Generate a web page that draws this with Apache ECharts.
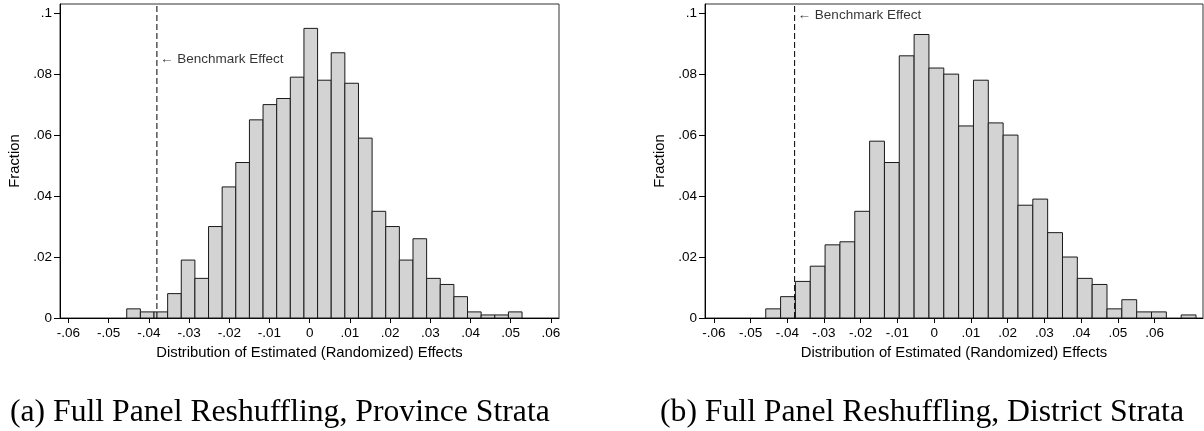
<!DOCTYPE html>
<html>
<head>
<meta charset="utf-8">
<script src="https://cdn.jsdelivr.net/npm/echarts@6/dist/echarts.min.js"></script>
<style>
html, body { margin: 0; padding: 0; background: #ffffff; }
#chart { width: 1204px; height: 431px; }
</style>
</head>
<body>
<div id="chart"></div>
<script>
// ---- Data ----
// Panel (a): bin edges (30 edges -> 29 bins) and fractions
var leftBinEdges = [-0.04550, -0.04211, -0.03872, -0.03533, -0.03194, -0.02855, -0.02516, -0.02177,
  -0.01838, -0.01499, -0.01160, -0.00821, -0.00482, -0.00143, 0.00196, 0.00535, 0.00874, 0.01213,
  0.01552, 0.01891, 0.02230, 0.02569, 0.02908, 0.03247, 0.03586, 0.03925, 0.04264, 0.04603, 0.04942, 0.05281];
var leftFractions = [0.003, 0.002, 0.002, 0.008, 0.019, 0.013, 0.030, 0.043, 0.051, 0.065, 0.070, 0.072,
  0.079, 0.095, 0.078, 0.087, 0.077, 0.059, 0.035, 0.030, 0.019, 0.026, 0.013, 0.011, 0.007, 0.002,
  0.001, 0.001, 0.002];

// Panel (b): bin edges (30 edges -> 29 bins) and fractions
var rightBinEdges = [-0.04586, -0.04182, -0.03778, -0.03374, -0.02970, -0.02566, -0.02162, -0.01758,
  -0.01354, -0.00950, -0.00546, -0.00142, 0.00262, 0.00666, 0.01070, 0.01474, 0.01878, 0.02282,
  0.02686, 0.03090, 0.03494, 0.03898, 0.04302, 0.04706, 0.05110, 0.05514, 0.05918, 0.06322, 0.06726, 0.07130];
var rightFractions = [0.003, 0.007, 0.012, 0.017, 0.024, 0.025, 0.035, 0.058, 0.051, 0.086, 0.093,
  0.082, 0.080, 0.063, 0.078, 0.064, 0.060, 0.037, 0.039, 0.028, 0.020, 0.013, 0.011, 0.003, 0.006,
  0.002, 0.002, 0, 0.001];

var benchmarkEffect = -0.038;
var benchmarkText = '\u2190 Benchmark Effect';

var xTickValues = [-0.06, -0.05, -0.04, -0.03, -0.02, -0.01, 0, 0.01, 0.02, 0.03, 0.04, 0.05, 0.06];
var xTickLabels = ['-.06', '-.05', '-.04', '-.03', '-.02', '-.01', '0', '.01', '.02', '.03', '.04', '.05', '.06'];
var yTickValues = [0, 0.02, 0.04, 0.06, 0.08, 0.1];
var yTickLabels = ['0', '.02', '.04', '.06', '.08', '.1'];

var xAxisTitle = 'Distribution of Estimated (Randomized) Effects';
var yAxisTitle = 'Fraction';
var captionA = '(a) Full Panel Reshuffling, Province Strata';
var captionB = '(b) Full Panel Reshuffling, District Strata';

// ---- Helpers ----
function lookupLabel(values, labels, v) {
  for (var i = 0; i < values.length; i++) {
    if (Math.abs(values[i] - v) < 1e-9) return labels[i];
  }
  return '';
}
function binData(edges, fr) {
  var out = [];
  for (var i = 0; i < fr.length; i++) out.push([edges[i], edges[i + 1], fr[i]]);
  return out;
}

var sansFont = '"Liberation Sans", Arial, Helvetica, sans-serif';
var serifFont = '"Liberation Serif", "Times New Roman", serif';

function xAxisDef(idx, min, max) {
  return {
    type: 'value', gridIndex: idx, min: min, max: max,
    name: xAxisTitle, nameLocation: 'middle', nameGap: 27,
    nameTextStyle: { color: '#000', fontSize: 14.8, fontFamily: sansFont },
    axisLine: { show: true, onZero: false, lineStyle: { color: '#000', width: 1 } },
    axisTick: { show: true, length: 5, customValues: xTickValues, lineStyle: { color: '#000' } },
    axisLabel: { show: true, margin: 8, customValues: xTickValues, color: '#000', fontSize: 13.5, fontFamily: sansFont,
      formatter: function (v) { return lookupLabel(xTickValues, xTickLabels, v); } },
    splitLine: { show: false }
  };
}
function yAxisDef(idx) {
  return {
    type: 'value', gridIndex: idx, min: 0, max: 0.103,
    name: yAxisTitle, nameLocation: 'middle', nameGap: 38, nameRotate: 90,
    nameTextStyle: { color: '#000', fontSize: 14.8, fontFamily: sansFont },
    axisLine: { show: true, onZero: false, lineStyle: { color: '#000', width: 1 } },
    axisTick: { show: true, length: 6, customValues: yTickValues, lineStyle: { color: '#000' } },
    axisLabel: { show: true, margin: 8, customValues: yTickValues, color: '#000', fontSize: 13.5, fontFamily: sansFont,
      formatter: function (v) { return lookupLabel(yTickValues, yTickLabels, v); } },
    splitLine: { show: false }
  };
}

function histSeries(idx, edges, fr) {
  return {
    type: 'custom', xAxisIndex: idx, yAxisIndex: idx,
    data: binData(edges, fr),
    renderItem: function (params, api) {
      var x0 = api.value(0), x1 = api.value(1), v = api.value(2);
      if (!(v > 0)) return null;
      var p0 = api.coord([x0, v]);
      var p1 = api.coord([x1, 0]);
      return {
        type: 'rect',
        shape: { x: p0[0], y: p0[1], width: p1[0] - p0[0], height: p1[1] - p0[1] },
        style: { fill: '#d3d3d3', stroke: '#1a1a1a', lineWidth: 1 }
      };
    },
    silent: true, animation: false, z: 2
  };
}

function benchLine(idx) {
  return {
    type: 'line', xAxisIndex: idx, yAxisIndex: idx,
    data: [[benchmarkEffect, 0], [benchmarkEffect, 0.103]],
    symbol: 'none', silent: true, animation: false, z: 3,
    lineStyle: { color: '#000', width: 1, type: [6, 3] }
  };
}
function benchLabel(idx, yVal) {
  return {
    type: 'scatter', xAxisIndex: idx, yAxisIndex: idx,
    data: [[benchmarkEffect, yVal]], symbolSize: 0, silent: true, animation: false, z: 4,
    label: { show: true, position: 'right', distance: 3, formatter: benchmarkText,
      color: '#000', fontSize: 13.5, fontFamily: sansFont }
  };
}

var chart = echarts.init(document.getElementById('chart'), null, { renderer: 'canvas' });
chart.setOption({
  backgroundColor: '#ffffff',
  animation: false,
  grid: [
    { left: 60, top: 4, width: 499, height: 314, show: true, borderColor: '#333', borderWidth: 1, backgroundColor: 'transparent' },
    { left: 705, top: 4, width: 498, height: 314, show: true, borderColor: '#333', borderWidth: 1, backgroundColor: 'transparent' }
  ],
  xAxis: [xAxisDef(0, -0.0621, 0.0620), xAxisDef(1, -0.0624, 0.0732)],
  yAxis: [yAxisDef(0), yAxisDef(1)],
  series: [
    histSeries(0, leftBinEdges, leftFractions),
    histSeries(1, rightBinEdges, rightFractions),
    benchLine(0), benchLine(1),
    benchLabel(0, 0.0849), benchLabel(1, 0.0994)
  ],
  graphic: [
    { type: 'text', left: 10, top: 397, silent: true,
      style: { text: captionA, font: '31.7px ' + serifFont, fill: '#000' } },
    { type: 'text', left: 660, top: 397, silent: true,
      style: { text: captionB, font: '31.7px ' + serifFont, fill: '#000' } }
  ]
});
</script>
</body>
</html>
